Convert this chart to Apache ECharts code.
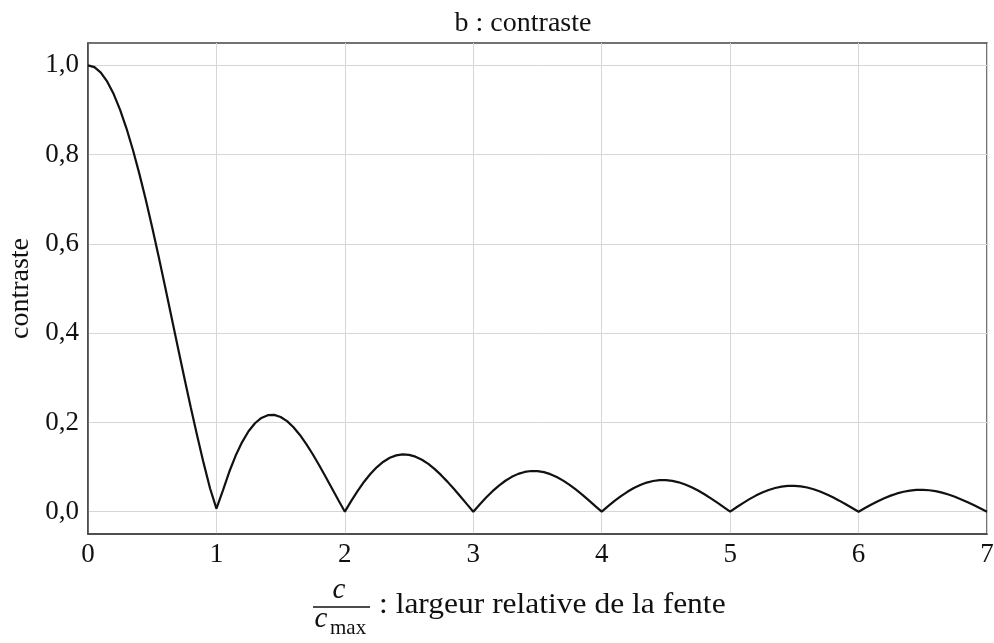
<!DOCTYPE html>
<html><head><meta charset="utf-8">
<script src="https://cdn.jsdelivr.net/npm/echarts@6/dist/echarts.min.js"></script>
<style>html,body{margin:0;padding:0;background:#fff}#c{width:994px;height:643px}</style>
</head><body><div id="c"></div>
<script>
const titleText = 'b : contraste';
const yAxisName = 'contraste';
const xAxisNameRest = ': largeur relative de la fente';
const xTicks = [0, 1, 2, 3, 4, 5, 6, 7];
const yTicks = [0, 0.2, 0.4, 0.6, 0.8, 1.0];
const xStep = 0.05;
const contraste = [
 1.0000, 0.9959, 0.9836, 0.9634, 0.9355, 0.9003, 0.8584, 0.8103, 0.7568, 0.6987,
 0.6366, 0.5716, 0.5046, 0.4363, 0.3679, 0.3001, 0.2339, 0.1700, 0.1093, 0.0524,
 0.0070, 0.0474, 0.0894, 0.1257, 0.1559, 0.1801, 0.1981, 0.2101, 0.2162, 0.2168,
 0.2122, 0.2028, 0.1892, 0.1719, 0.1515, 0.1286, 0.1039, 0.0781, 0.0518, 0.0255,
 0.0000, 0.0243, 0.0468, 0.0672, 0.0850, 0.1000, 0.1120, 0.1207, 0.1261, 0.1283,
 0.1273, 0.1233, 0.1164, 0.1070, 0.0954, 0.0818, 0.0668, 0.0507, 0.0339, 0.0169,
 0.0000, 0.0163, 0.0317, 0.0459, 0.0585, 0.0693, 0.0780, 0.0847, 0.0890, 0.0911,
 0.0909, 0.0886, 0.0841, 0.0777, 0.0696, 0.0600, 0.0492, 0.0375, 0.0252, 0.0126,
 0.0000, 0.0123, 0.0240, 0.0348, 0.0445, 0.0530, 0.0599, 0.0652, 0.0688, 0.0707,
 0.0707, 0.0691, 0.0658, 0.0610, 0.0548, 0.0474, 0.0390, 0.0298, 0.0201, 0.0101,
 0.0000, 0.0099, 0.0193, 0.0281, 0.0360, 0.0429, 0.0486, 0.0530, 0.0561, 0.0577,
 0.0579, 0.0566, 0.0541, 0.0502, 0.0452, 0.0391, 0.0323, 0.0247, 0.0167, 0.0084,
 0.0000, 0.0082, 0.0161, 0.0235, 0.0302, 0.0360, 0.0409, 0.0447, 0.0473, 0.0487,
 0.0490, 0.0480, 0.0459, 0.0426, 0.0384, 0.0333, 0.0275, 0.0211, 0.0143, 0.0072,
 0.0000
];

const FONT = '"Liberation Serif", "DejaVu Serif", serif';
const data = contraste.map((v, i) => [+(i * xStep).toFixed(2), v]);
const chart = echarts.init(document.getElementById('c'), null, {renderer: 'canvas'});
chart.setOption({
  animation: false,
  backgroundColor: '#fff',
  title: {text: titleText, left: 518, textAlign: 'center', top: 5,
    textStyle: {fontFamily: FONT, fontSize: 28, fontWeight: 'normal', color: '#111'}},
  grid: {left: 88, right: 7, top: 43, bottom: 109, containLabel: false, outerBoundsMode: 'none',
    show: true, borderColor: '#444', borderWidth: 1.5, backgroundColor: 'transparent'},
  xAxis: {
    type: 'value', min: 0, max: 7, interval: 1,
    axisLine: {show: true, onZero: false, lineStyle: {color: '#444', width: 1.5}},
    axisTick: {show: false},
    axisLabel: {fontFamily: FONT, fontSize: 27, color: '#111', margin: 7,
      customValues: xTicks},
    splitLine: {show: true, lineStyle: {color: '#d6d6d6', width: 1}}
  },
  yAxis: {
    type: 'value', min: -0.05, max: 1.05,
    name: yAxisName, nameLocation: 'middle', nameGap: 52, nameRotate: 90,
    nameTextStyle: {fontFamily: FONT, fontSize: 28, color: '#111'},
    axisLine: {show: true, onZero: false, lineStyle: {color: '#444', width: 1.5}},
    axisTick: {show: false, customValues: yTicks},
    axisLabel: {fontFamily: FONT, fontSize: 27, color: '#111', margin: 9,
      customValues: yTicks,
      formatter: v => v.toFixed(1).replace('.', ',')},
    splitLine: {show: true, lineStyle: {color: '#d6d6d6', width: 1}}
  },
  series: [{
    type: 'line', data: data, showSymbol: false, smooth: false,
    lineStyle: {color: '#111', width: 2.2}, z: 5
  }],
  graphic: [
    {type: 'text', x: 339, y: 590, style: {text: 'c', fontFamily: FONT, fontStyle: 'italic', fontSize: 29, fill: '#111', align: 'center', verticalAlign: 'middle'}},
    {type: 'line', shape: {x1: 313, y1: 607, x2: 370, y2: 607}, style: {stroke: '#111', lineWidth: 1.3}},
    {type: 'text', x: 321, y: 619, style: {text: 'c', fontFamily: FONT, fontStyle: 'italic', fontSize: 29, fill: '#111', align: 'center', verticalAlign: 'middle'}},
    {type: 'text', x: 330, y: 628, style: {text: 'max', fontFamily: FONT, fontSize: 21, fill: '#111', align: 'left', verticalAlign: 'middle'}},
    {type: 'text', x: 379, y: 605, scaleX: 1.05, style: {text: xAxisNameRest, fontFamily: FONT, fontSize: 30, fill: '#111', align: 'left', verticalAlign: 'middle'}}
  ]
});
</script></body></html>
